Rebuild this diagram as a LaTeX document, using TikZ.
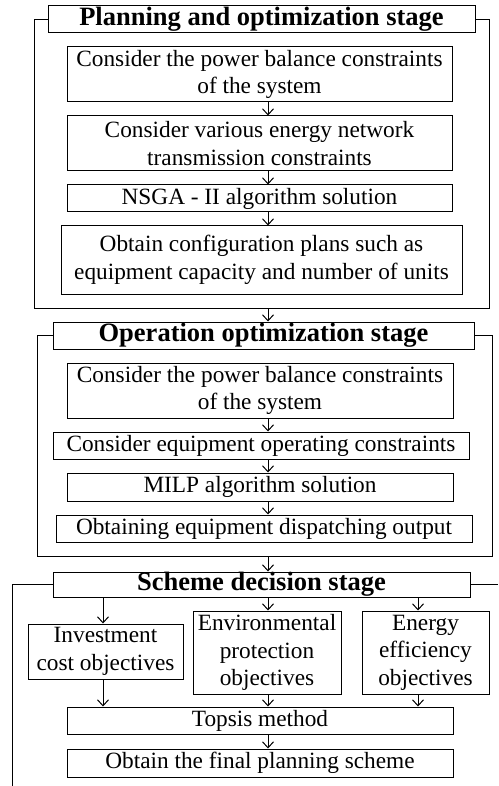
\documentclass[tikz,border=0pt]{standalone}
\usepackage{fontspec}
\setmainfont{Liberation Serif}
\usetikzlibrary{arrows.meta}
\begin{document}
\begin{tikzpicture}[x=1pt, y=-1pt, line width=1pt,
        font=\fontsize{23.3}{27.5}\selectfont,
        >={Straight Barb[length=6pt,width=11pt]},
        blk/.style={draw, align=center, inner sep=0pt},
        ttl/.style={draw, inner sep=0pt, font=\fontsize{26.5}{28}\selectfont\bfseries}]
        \useasboundingbox (0,0) rectangle (498,786);
        \coordinate (mid) at (268,0);

        % planning stage
        \node[ttl, minimum width=427, minimum height=27] (t1) at (261.5,19.5) {Planning and optimization stage};
        \node[blk, minimum width=385, minimum height=55] (p1) at (259.5,74.5) {Consider the power balance constraints\\of the system};
        \node[blk, minimum width=385, minimum height=55] (p2) at (259.5,143.5) {Consider various energy network\\transmission constraints};
        \node[blk, minimum width=385, minimum height=27] (p3) at (259.5,198.5) {NSGA - II algorithm solution};
        \node[blk, minimum width=401, minimum height=68] (p4) at (261.5,260) {Obtain configuration plans such as\\equipment capacity and number of units};
        \coordinate (f1sw) at (34,308);
        \coordinate (f1ne) at (489,20);
        \draw (t1.west) -| (f1sw) -| (f1ne |- t1.east) -- (t1.east);

        % operation stage
        \node[ttl, minimum width=421, minimum height=27] (t2) at (263.5,335.5) {Operation optimization stage};
        \node[blk, minimum width=386, minimum height=55] (o1) at (260,390.5) {Consider the power balance constraints\\of the system};
        \node[blk, minimum width=416, minimum height=27] (o2) at (261,445.5) {Consider equipment operating constraints};
        \node[blk, minimum width=386, minimum height=28] (o3) at (260,487) {MILP algorithm solution};
        \node[blk, minimum width=416, minimum height=27] (o4) at (264,528.5) {Obtaining equipment dispatching output};
        \coordinate (f2sw) at (37,556);
        \coordinate (f2ne) at (492,336);
        \draw (t2.west) -| (f2sw) -| (f2ne |- t2.east) -- (t2.east);

        % decision stage
        \node[ttl, minimum width=417, minimum height=25] (t3) at (261.5,584.5) {Scheme decision stage};
        \node[blk, minimum width=155, minimum height=55] (c1) at (105.5,651.5) {Investment\\cost objectives};
        \node[blk, minimum width=148, minimum height=83] (c2) at (267,652.5) {Environmental\\protection\\objectives};
        \node[blk, minimum width=127, minimum height=83] (c3) at (425.5,652.5) {Energy\\efficiency\\objectives};
        \node[blk, minimum width=386, minimum height=27] (s1) at (260,720.5) {Topsis method};
        \node[blk, minimum width=386, minimum height=28] (s2) at (260,763) {Obtain the final planning scheme};
        \coordinate (f3sw) at (12,786);
        \coordinate (f3e) at (498,584.5);
        \coordinate (la) at (103,0);
        \coordinate (ra) at (418,0);
        \draw (t3.west) -| (f3sw);
        \draw (t3.east) -- (f3e);

        \draw[->] (p1.south -| mid) -- (p2.north -| mid);
        \draw[->] (p2.south -| mid) -- (p3.north -| mid);
        \draw[->] (p3.south -| mid) -- (p4.north -| mid);
        \draw[->] (mid |- f1sw) -- (t2.north -| mid);
        \draw[->] (o1.south -| mid) -- (o2.north -| mid);
        \draw[->] (o2.south -| mid) -- (o3.north -| mid);
        \draw[->] (o3.south -| mid) -- (o4.north -| mid);
        \draw[->] (mid |- f2sw) -- (t3.north -| mid);

        % objectives
        \draw[->] (t3.south -| la)  -- (c1.north -| la);
        \draw[->] (t3.south -| mid) -- (c2.north -| mid);
        \draw[->] (t3.south -| ra)  -- (c3.north -| ra);
        \draw[->] (c1.south -| la)  -- (s1.north -| la);
        \draw[->] (c2.south -| mid) -- (s1.north -| mid);
        \draw[->] (c3.south -| ra)  -- (s1.north -| ra);
        \draw[->] (s1.south -| mid) -- (s2.north -| mid);
\end{tikzpicture}
\end{document}
